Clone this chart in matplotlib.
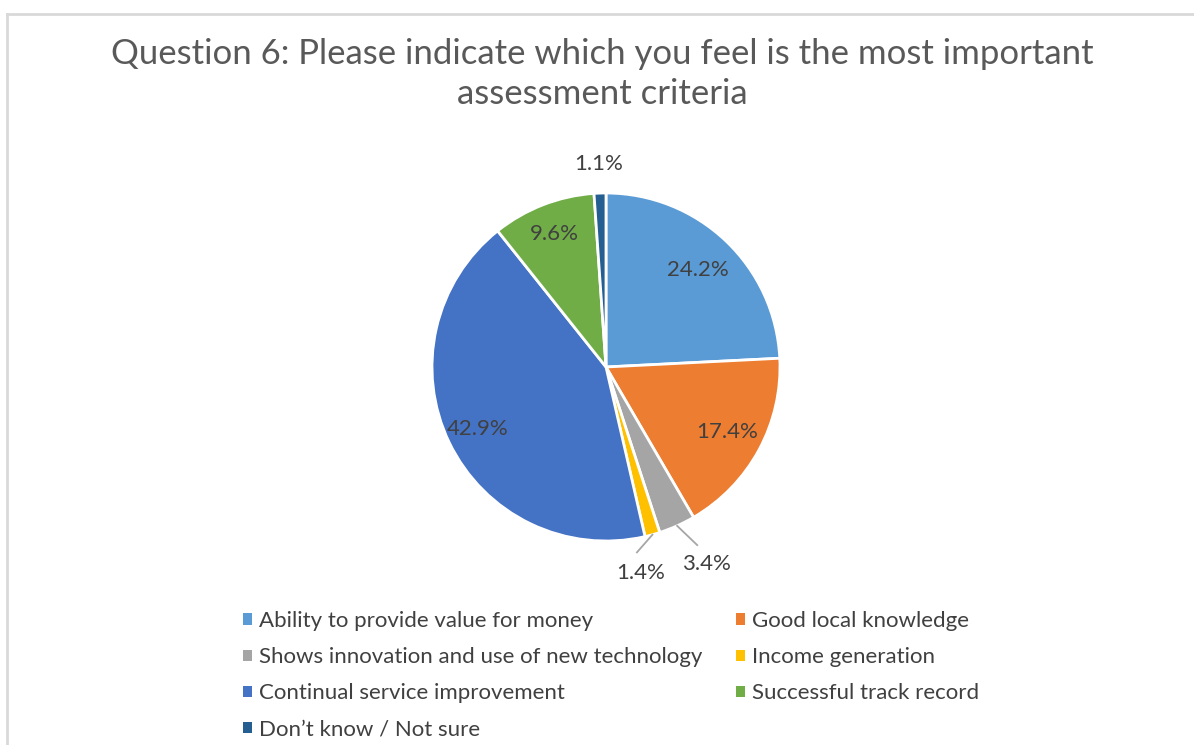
import numpy as np
import matplotlib.pyplot as plt
from matplotlib.lines import Line2D
from matplotlib.patches import Patch

plt.rcParams['font.family'] = ['Lato', 'DejaVu Sans']

title = "Question 6: Please indicate which you feel is the most important\nassessment criteria"
categories = [
    "Ability to provide value for money",
    "Good local knowledge",
    "Shows innovation and use of new technology",
    "Income generation",
    "Continual service improvement",
    "Successful track record",
    "Don\u2019t know / Not sure",
]
shares = [24.2, 17.4, 3.4, 1.4, 42.9, 9.6, 1.1]
colors = ["#5B9BD5", "#ED7D31", "#A5A5A5", "#FFC000", "#4472C4", "#70AD47", "#255E91"]

text_col = "#404040"

fig = plt.figure(figsize=(11.94, 7.45), dpi=100)

# chart frame (top and left edges)
fig.add_artist(Line2D([7 / 1194, 1], [1 - 14 / 745] * 2, color="#D9D9D9", lw=2))
fig.add_artist(Line2D([7 / 1194] * 2, [0, 1 - 14 / 745], color="#D9D9D9", lw=2))

fig.text(0.5045, 1 - 74 / 745, title, ha="center", va="center",
         fontsize=25, color="#595959", linespacing=1.32)

# pie area: centre ~ (606, 367), radius ~ 174 px
r_px = 174
cx, cy = 606, 367
ax = fig.add_axes([(cx - r_px) / 1194, 1 - (cy + r_px) / 745,
                   2 * r_px / 1194, 2 * r_px / 745])
wedges, _ = ax.pie(shares, colors=colors, startangle=90, counterclock=False,
                   wedgeprops=dict(edgecolor="white", linewidth=2))
ax.set_xlim(-1, 1)
ax.set_ylim(-1, 1)
ax.set_aspect("equal")

# label placement: (radial distance, angular nudge in degrees, leader line)
placement = {
    0: (0.77, 0, False),
    1: (0.79, 0, False),
    2: (1.27, 3, True),
    3: (1.20, -6, True),
    4: (0.82, 0, False),
    5: (0.82, 0, False),
    6: (1.17, 0, False),
}
for i, w in enumerate(wedges):
    mid = np.deg2rad((w.theta1 + w.theta2) / 2)
    dist, nudge, leader = placement[i]
    ang = mid + np.deg2rad(nudge)
    x, y = dist * np.cos(ang), dist * np.sin(ang)
    ax.text(x, y, f"{shares[i]:.1f}%", ha="center", va="center",
            fontsize=16, color=text_col, clip_on=False)
    if leader:
        x0, y0 = 1.0 * np.cos(mid), 1.0 * np.sin(mid)
        x1, y1 = (dist - 0.12) * np.cos(ang), (dist - 0.12) * np.sin(ang)
        ax.plot([x0, x1], [y0, y1], color="#A6A6A6", lw=1.3, clip_on=False)

# legend filled row-wise in two columns
order = [0, 2, 4, 6, 1, 3, 5]
handles = [Patch(facecolor=colors[i], edgecolor="none") for i in order]
labels = [categories[i] for i in order]
fig.legend(handles, labels, ncol=2, loc="upper left",
           bbox_to_anchor=(223 / 1194, 1 - 591 / 745), frameon=False,
           fontsize=16, labelcolor=text_col, handlelength=0.42, handleheight=0.42,
           handletextpad=0.3, labelspacing=0.73, columnspacing=1.5)

fig.savefig("out.png", dpi=100, facecolor="white")
